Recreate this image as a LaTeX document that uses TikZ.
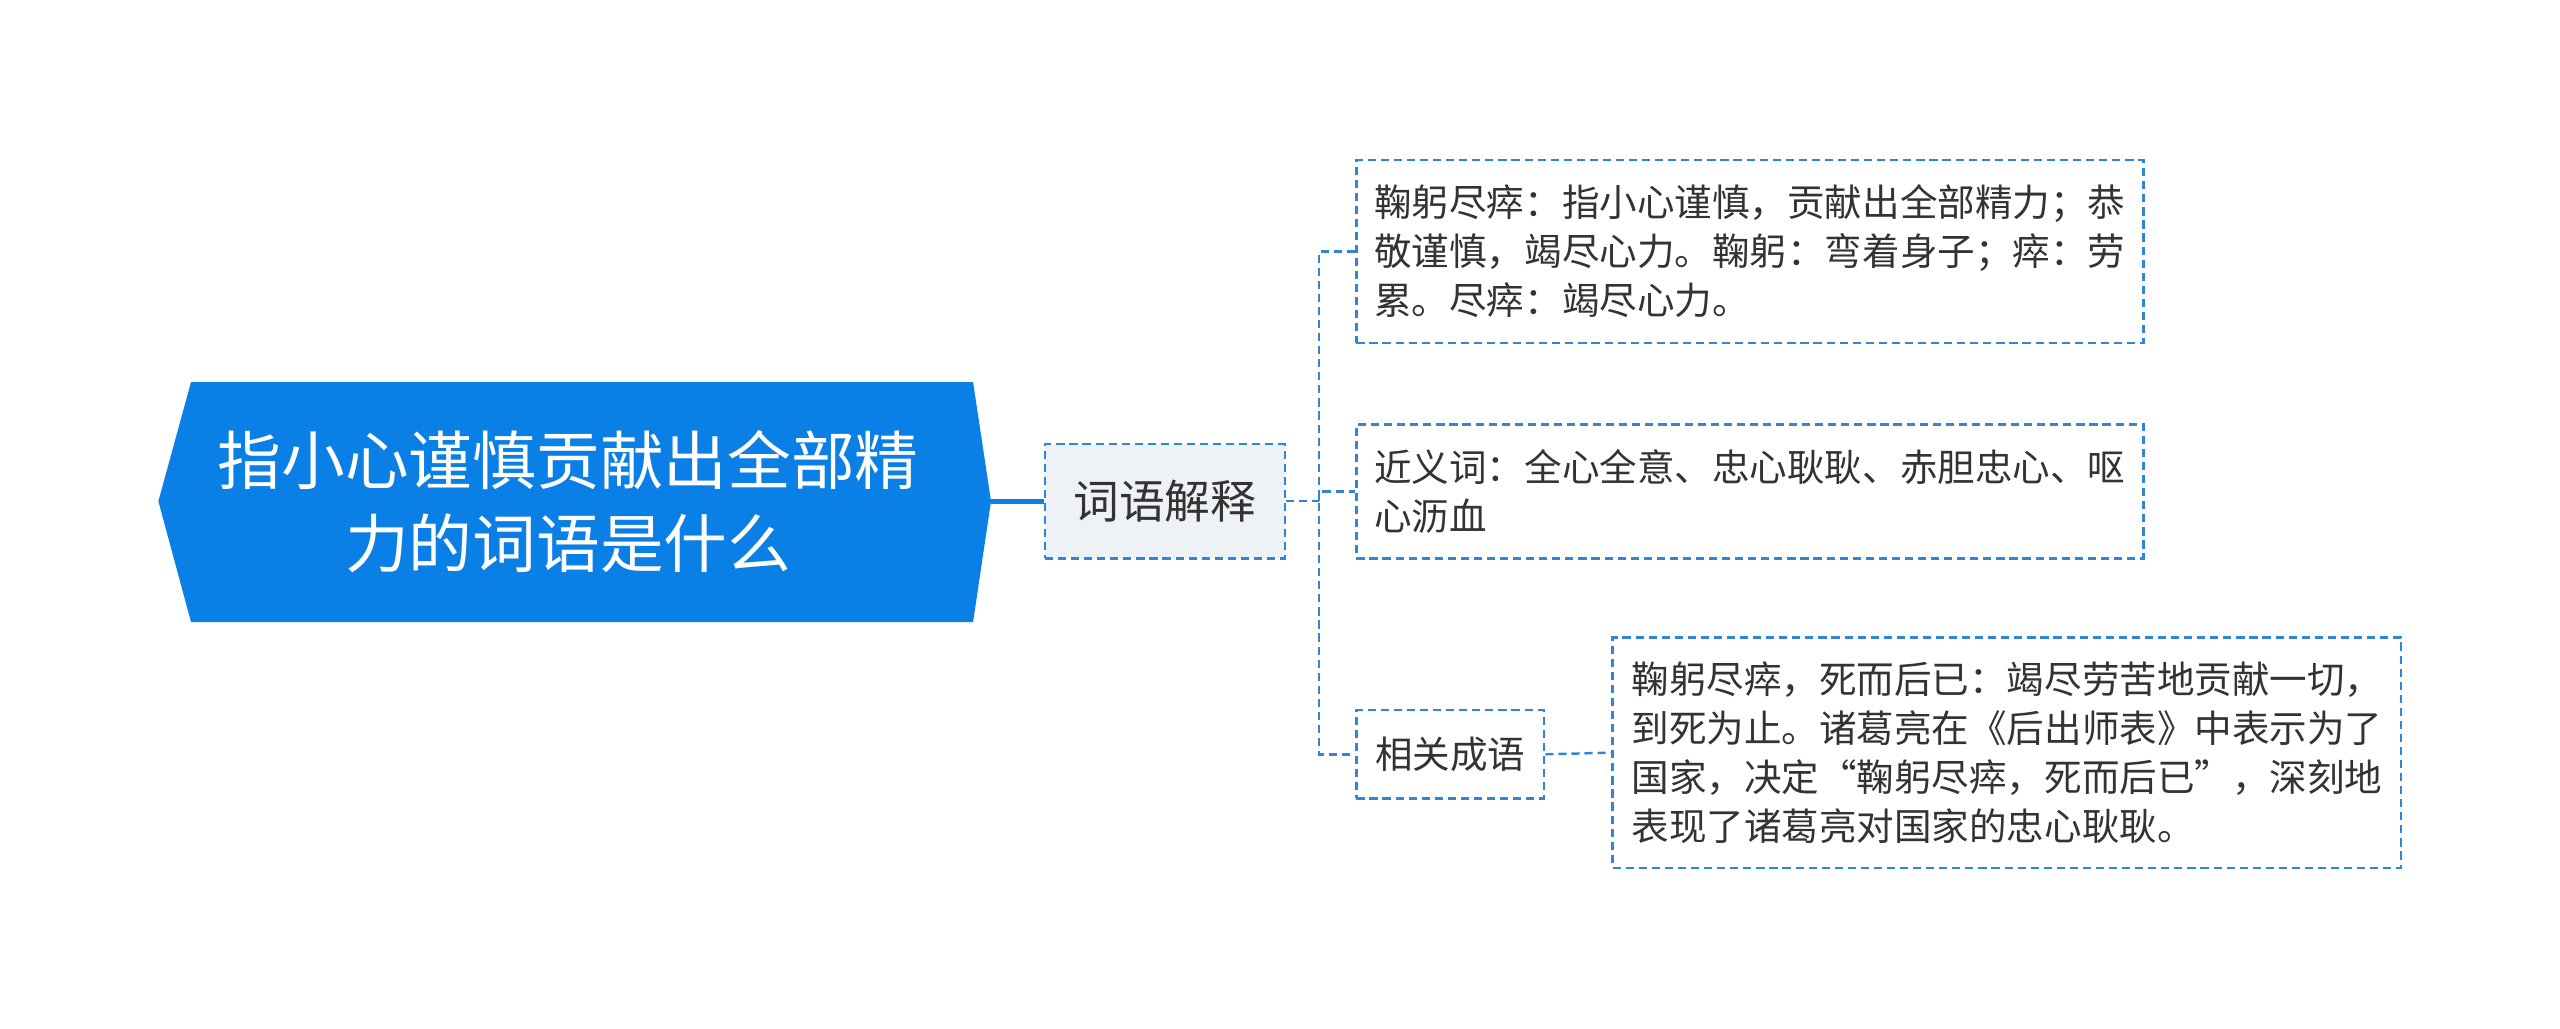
\documentclass[tikz,border=0pt]{standalone}
\usepackage{fontspec}
\setmainfont{Noto Sans CJK SC}
\usetikzlibrary{positioning}
\definecolor{rootblue}{HTML}{0A7FE6}
\definecolor{linkblue}{HTML}{2F86D6}
\definecolor{subgray}{HTML}{EEF2F6}
\definecolor{txtgray}{HTML}{333333}
\begin{document}
\begin{tikzpicture}[x=1pt,y=-1pt,
        leafbox/.style={draw=linkblue, dash pattern=on 5pt off 3pt, line width=1.5pt, align=left, inner xsep=11pt,
            font=\fontsize{23}{30}\selectfont, text=txtgray, anchor=west},
        link/.style={draw=linkblue, dash pattern=on 5pt off 3pt, line width=1.5pt}
    ]
        \useasboundingbox (0,0) rectangle (1568,630);
        % Root
        \fill[rootblue] (117,234) -- (596,234) -- (607,307) -- (596,381) -- (117,381) -- (97,307) -- cycle;
        \node[align=center, text=white, font=\fontsize{39}{51}\selectfont] (root) at (348,307)
            {指小心谨慎贡献出全部精\\力的词语是什么};
        \coordinate (rootR) at (607,307);
        
        % Sub topic
        \node[draw=linkblue, dash pattern=on 5pt off 3pt, line width=1.5pt, fill=subgray, minimum width=147pt,
            minimum height=70pt, font=\fontsize{28}{30}\selectfont, text=txtgray] (term) at (713.5,307) {词语解释};
        \draw[rootblue, line width=3pt] (rootR) -- (term.west);
        
        % Leaves
        \node[leafbox, minimum width=482pt, minimum height=112pt] (def) at (830,154)
            {鞠躬尽瘁：指小心谨慎，贡献出全部精力；恭\\敬谨慎，竭尽心力。鞠躬：弯着身子；瘁：劳\\累。尽瘁：竭尽心力。};
        \node[leafbox, minimum width=482pt, minimum height=82pt] (syn) at (830,301)
            {近义词：全心全意、忠心耿耿、赤胆忠心、呕\\心沥血};
        \node[leafbox, minimum width=115pt, minimum height=54pt, align=center] (idiom) at (830,462) {相关成语};
        \node[leafbox, minimum width=483pt, minimum height=141pt] (story) at (987,461)
            {鞠躬尽瘁，死而后已：竭尽劳苦地贡献一切，\\到死为止。诸葛亮在《后出师表》中表示为了\\国家，决定“鞠躬尽瘁，死而后已”，深刻地\\表现了诸葛亮对国家的忠心耿耿。};
        
        % Connectors
        \coordinate (fork) at (808,307);
        \draw[link] (term.east) -- (fork);
        \draw[link] (def.west) -| (fork) |- (idiom.west);
        \draw[link] (fork) |- (syn.west);
        \draw[link] (idiom.east) -- (story.west);
    \end{tikzpicture}
\end{document}
